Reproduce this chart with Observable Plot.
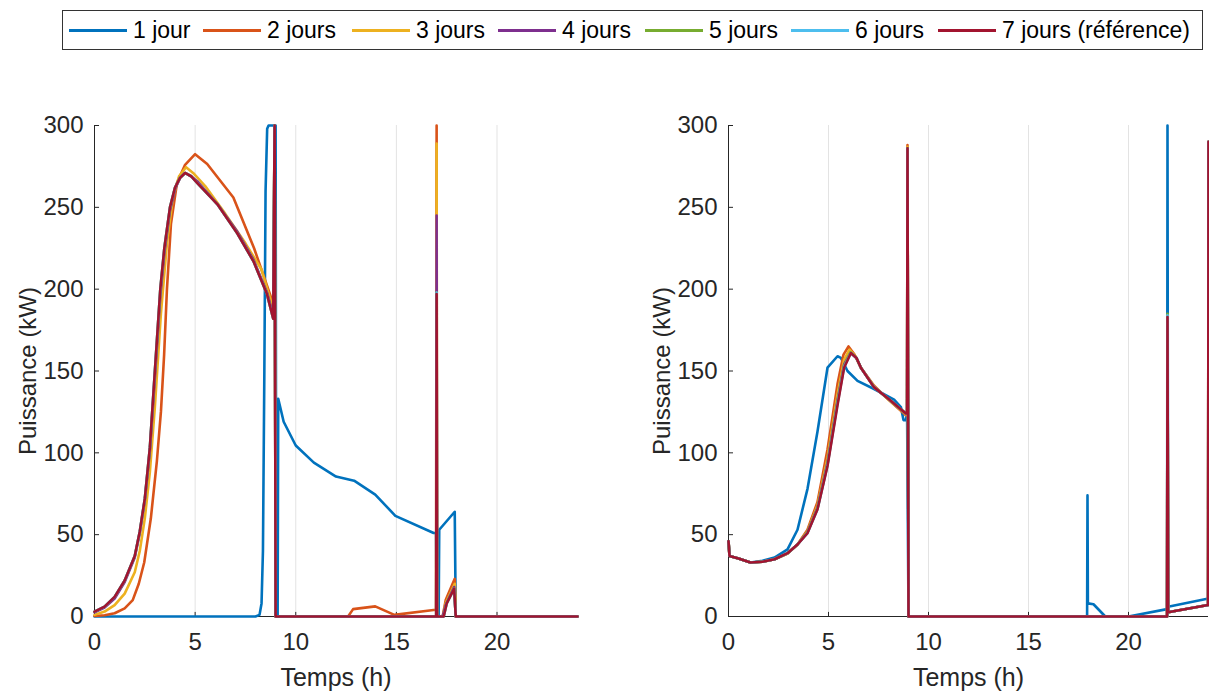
<!DOCTYPE html>
<html>
<head>
<meta charset="utf-8">
<script src="https://cdn.jsdelivr.net/npm/d3@7"></script>
<script src="https://cdn.jsdelivr.net/npm/@observablehq/plot@0.6"></script>
<style>
  html, body { margin: 0; padding: 0; background: #fff; }
  body { width: 1209px; height: 695px; position: relative; overflow: hidden; font-family: "Liberation Sans", Arial, sans-serif; }
  #legend { position: absolute; left: 62px; top: 10px; width: 1139px; height: 38px; border: 1px solid #333; box-sizing: content-box; }
  .item { position: absolute; top: 0; height: 38px; display: flex; align-items: center; }
  .swatch { width: 58px; height: 3px; margin-right: 6px; }
  .lab { font-size: 23px; color: #000; white-space: nowrap; }
  .panel { position: absolute; top: 60px; }
</style>
</head>
<body>
<div id="legend"></div>
<div id="left" class="panel" style="left:0px"></div>
<div id="right" class="panel" style="left:634px"></div>
<script>
// ---- data ----
const seriesNames = ["1 jour", "2 jours", "3 jours", "4 jours", "5 jours", "6 jours", "7 jours (référence)"];
const seriesColors = ["#0072BD", "#D95319", "#EDB120", "#7E2F8E", "#77AC30", "#4DBEEE", "#A2142F"];
const xTicks = [0, 5, 10, 15, 20];
const yTicks = [0, 50, 100, 150, 200, 250, 300];
const xLabel = "Temps (h)";
const yLabel = "Puissance (kW)";

// left panel: [hour, kW]
const left1 = [[0,0],[8.0,0],[8.2,1],[8.3,8],[8.37,40],[8.44,150],[8.5,260],[8.58,298],[8.65,300],[8.92,300],[9.0,300],[9.03,0],[9.1,0],[9.13,133],[9.4,119],[10.0,104.5],[10.9,94],[12.0,85.5],[12.9,83],[13.95,74.5],[14.95,61.5],[16.85,51],[16.97,51],[17.0,0],[17.1,0],[17.13,53],[17.9,64],[17.95,0],[24,0]];
const left2 = [[0,0.3],[0.5,0.8],[1.0,2],[1.5,5],[1.9,10],[2.2,20],[2.47,33],[2.8,60],[3.1,95],[3.3,125],[3.46,160],[3.6,200],[3.8,240],[4.1,265],[4.5,276],[5.0,282.5],[5.6,276.5],[6.9,256],[7.93,225],[8.83,193],[8.93,190],[8.95,300],[9.0,0],[12.6,0],[12.85,4.5],[13.95,6.2],[14.9,1],[16.85,4],[16.97,4],[17.0,300],[17.02,0],[17.3,0],[17.45,10],[17.9,23],[17.95,0],[24,0]];
const left3 = [[0,1],[0.5,3],[1.0,7],[1.5,14],[2.0,27],[2.25,40],[2.5,60],[2.75,88],[3.0,128],[3.3,185],[3.6,228],[3.9,256],[4.2,269],[4.55,274.5],[4.9,271],[5.5,263],[6.5,246],[7.5,228],[8.3,212],[8.88,188],[8.95,300],[9.0,0],[16.98,0],[17.0,289],[17.02,0],[17.3,0],[17.45,8],[17.9,20],[17.95,0],[24,0]];
const left4 = [[0,2.5],[0.5,5.5],[1.0,11],[1.5,21],[2.0,36],[2.25,51],[2.5,71],[2.75,101],[3.0,146],[3.27,196],[3.47,222],[3.75,248],[4.0,261],[4.25,268],[4.5,271],[4.8,269],[5.1,266],[6.1,252],[7.1,235],[7.9,218],[8.57,198],[8.88,184],[8.95,300],[9.0,0],[16.98,0],[17.0,245],[17.02,0],[17.3,0],[17.45,7],[17.87,18],[17.95,0],[24,0]];
const left5 = [[0,3],[0.5,6],[1.0,12],[1.5,22],[2.0,37],[2.25,52],[2.5,72],[2.75,103],[3.0,150],[3.27,200],[3.47,225],[3.75,250],[4.0,262],[4.25,268],[4.5,271],[4.8,269],[5.1,265],[6.1,252],[7.1,234],[7.9,217],[8.57,197],[8.88,182],[8.95,300],[9.0,0],[16.98,0],[17.0,198],[17.02,0],[17.35,0],[17.5,8],[17.87,17],[17.95,0],[24,0]];
const left6 = [[0,3],[0.5,6],[1.0,12],[1.5,22],[2.0,37],[2.25,52],[2.5,72],[2.75,103],[3.0,150],[3.27,200],[3.47,225],[3.75,250],[4.0,262],[4.25,268],[4.5,271],[4.8,269],[5.1,265],[6.1,252],[7.1,234],[7.9,217],[8.57,197],[8.88,182],[8.95,300],[9.0,0],[16.98,0],[17.0,198],[17.02,0],[17.35,0],[17.5,8],[17.87,17],[17.95,0],[24,0]];
const left7 = [[0,3],[0.5,6],[1.0,12],[1.5,22],[2.0,37],[2.25,52],[2.5,72],[2.75,103],[3.0,150],[3.27,200],[3.47,225],[3.75,250],[4.0,262],[4.25,268],[4.5,271],[4.8,269],[5.1,265],[6.1,252],[7.1,234],[7.9,217],[8.57,197],[8.88,182],[8.95,300],[9.0,0],[16.98,0],[17.0,197],[17.02,0],[17.35,0],[17.5,8],[17.87,17],[17.95,0],[24,0]];

// right panel: [hour, kW]
const right1 = [[0,46],[0.05,37],[0.5,35.5],[1.1,33],[1.7,34],[2.3,36],[2.95,41],[3.45,53],[3.95,78],[4.45,113],[4.95,152],[5.45,159],[5.62,158],[5.95,150],[6.45,144],[7.28,139],[8.28,132.5],[8.62,128],[8.75,120],[8.87,120],[8.93,124],[9.0,0],[17.93,0],[17.95,74],[17.97,8],[18.25,7.5],[18.84,0],[20.0,0],[21.93,4.5],[21.95,300],[21.98,6],[24,11]];
const right2 = [[0,46],[0.05,37],[0.5,35.5],[1.1,33],[1.7,33.5],[2.3,35],[2.95,38.5],[3.45,44],[3.95,53],[4.45,70],[4.95,102],[5.45,142],[5.75,160],[6.0,165],[6.3,160],[6.62,152],[7.28,141],[7.95,133],[8.87,123],[8.93,123],[8.95,288],[9.0,0],[21.93,0],[21.95,184],[21.98,2.6],[23.98,7],[24,290]];
const right3 = [[0,46],[0.05,37],[0.5,35.5],[1.1,33],[1.7,33.5],[2.3,35],[2.95,38.5],[3.45,44],[3.95,52],[4.45,68],[4.95,97],[5.45,136],[5.78,157],[6.05,163],[6.35,159],[6.62,152],[7.28,140.5],[7.95,133],[8.87,123.5],[8.93,123.5],[8.95,287],[9.0,0],[21.93,0],[21.95,184],[21.98,2.6],[23.98,7],[24,290]];
const right4 = [[0,46],[0.05,37],[0.5,35.5],[1.1,33],[1.7,33.5],[2.3,35],[2.95,38.6],[3.45,44],[3.95,51.5],[4.45,66.5],[4.95,94],[5.45,132],[5.78,154],[6.1,161],[6.4,158],[6.62,152],[7.28,140],[7.95,133.5],[8.87,124],[8.93,124],[8.95,286],[9.0,0],[21.93,0],[21.95,184],[21.98,2.6],[23.98,7],[24,290]];
const right5 = [[0,46],[0.05,37],[0.5,35.5],[1.1,33],[1.7,33.5],[2.3,35],[2.95,38.6],[3.45,44],[3.95,51.5],[4.45,66],[4.95,93],[5.45,131],[5.78,153],[6.1,161.5],[6.4,158],[6.62,152],[7.28,140],[7.95,133.5],[8.87,124],[8.93,124],[8.95,286],[9.0,0],[21.93,0],[21.95,185],[21.98,2.6],[23.98,7],[24,290]];
const right6 = [[0,46],[0.05,37],[0.5,35.5],[1.1,33],[1.7,33.5],[2.3,35],[2.95,38.7],[3.45,44],[3.95,51],[4.45,65.5],[4.95,92.5],[5.45,130],[5.78,152.5],[6.12,161],[6.4,158],[6.62,152],[7.28,140],[7.95,133.5],[8.87,124],[8.93,124],[8.95,286],[9.0,0],[21.93,0],[21.95,184],[21.98,2.6],[23.98,7],[24,290]];
const right7 = [[0,46],[0.05,37],[0.5,35.5],[1.1,33],[1.7,33.5],[2.3,35],[2.95,38.7],[3.45,44],[3.95,51],[4.45,65.5],[4.95,92],[5.45,129],[5.78,152],[6.12,161],[6.4,158],[6.62,152],[7.28,140],[7.95,133.5],[8.87,124],[8.93,124],[8.95,286],[9.0,0],[21.93,0],[21.95,183],[21.98,2.6],[23.98,7],[24,290]];

// ---- build ----
const toRows = (arrs) => arrs.flatMap((a, i) => a.map(([h, p]) => ({s: seriesNames[i], h, p})));
const leftRows = toRows([left1, left2, left3, left4, left5, left6, left7]);
const rightRows = toRows([right1, right2, right3, right4, right5, right6, right7]);

const axisColor = "#262626";
function panel(rows, width, marginRight) {
  return Plot.plot({
    width, height: 635,
    marginLeft: 94, marginRight, marginTop: 65, marginBottom: 79,
    style: {fontSize: "24px", fontFamily: "'Liberation Sans', Arial, sans-serif", color: axisColor, background: "transparent", overflow: "visible"},
    x: {domain: [0, 24]},
    y: {domain: [0, 300]},
    color: {domain: seriesNames, range: seriesColors},
    marks: [
      Plot.ruleX(xTicks.filter(t => t > 0), {y1: 0, y2: 300, stroke: "#e3e3e3", strokeWidth: 1}),
      Plot.ruleX([0], {y1: 0, y2: 300, stroke: axisColor, strokeWidth: 1}),
      Plot.ruleY([0], {x1: 0, x2: 24, stroke: axisColor, strokeWidth: 1}),
      Plot.ruleY(yTicks, {x1: 0, x2: 0.25, stroke: axisColor, strokeWidth: 1}),
      Plot.ruleX(xTicks, {y1: 0, y2: 2.5, stroke: axisColor, strokeWidth: 1}),
      Plot.axisX({ticks: xTicks, tickSize: 0, tickPadding: 16, label: null, tickFormat: d => String(d)}),
      Plot.axisY({ticks: yTicks, tickSize: 0, tickPadding: 11, label: null, tickFormat: d => String(d)}),
      Plot.text([xLabel], {frameAnchor: "bottom", dy: 61, lineAnchor: "middle", fontSize: 25, fill: axisColor}),
      Plot.text([yLabel], {frameAnchor: "left", dx: -66, rotate: -90, lineAnchor: "middle", textAnchor: "middle", fontSize: 24, fill: axisColor}),
      Plot.line(rows, {x: "h", y: "p", z: "s", stroke: "s", strokeWidth: 2.6, strokeLinejoin: "round", strokeLinecap: "round"})
    ]
  });
}

document.getElementById("left").append(panel(leftRows, 600, 23));
document.getElementById("right").append(panel(rightRows, 575, 1));

// legend (item left offsets inside the box)
const legendOffsets = [6, 140, 289, 435, 582, 728, 875];
const legend = document.getElementById("legend");
seriesNames.forEach((name, i) => {
  const item = document.createElement("div");
  item.className = "item";
  item.style.left = legendOffsets[i] + "px";
  const sw = document.createElement("div");
  sw.className = "swatch";
  sw.style.background = seriesColors[i];
  const lab = document.createElement("span");
  lab.className = "lab";
  lab.textContent = name;
  item.append(sw, lab);
  legend.append(item);
});
</script>
</body>
</html>
